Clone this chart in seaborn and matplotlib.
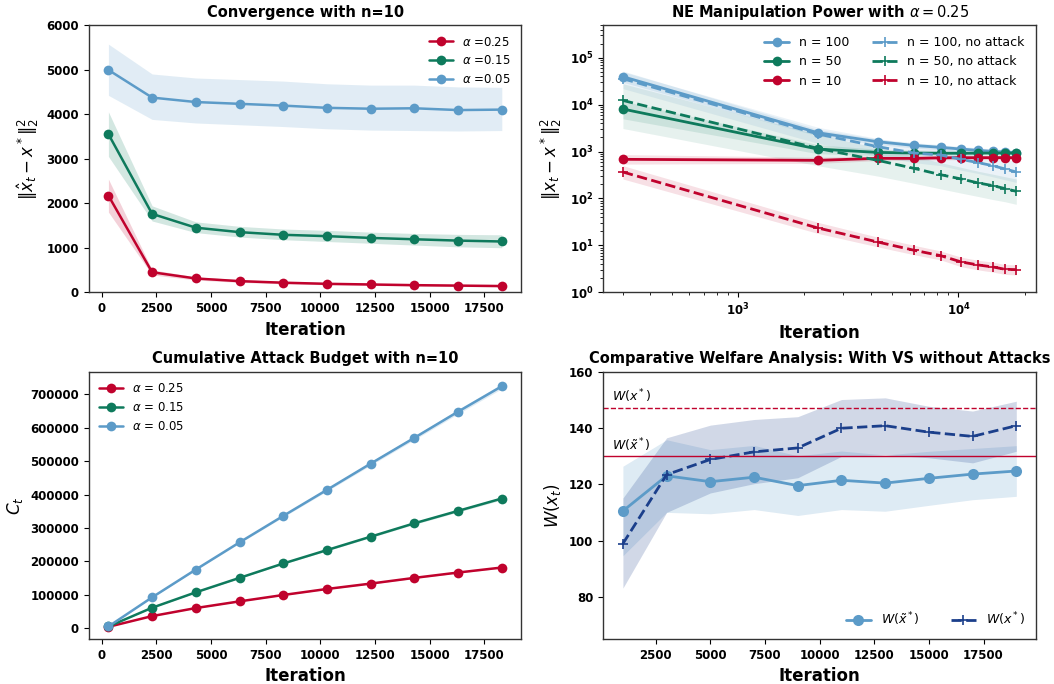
import matplotlib
matplotlib.use("Agg")
import numpy as np
import pandas as pd
import seaborn as sns
import matplotlib.pyplot as plt

# ---------------- data ----------------
iters = [300, 2300, 4300, 6300, 8300, 10300, 12300, 14300, 16300, 18300]
alpha_labels = ["0.25", "0.15", "0.05"]

# Panel 1: convergence with n=10
conv_a25 = [2170, 450, 310, 250, 215, 190, 175, 160, 150, 140]
conv_a25_lo = [1800, 390, 275, 222, 190, 168, 153, 140, 130, 120]
conv_a25_hi = [2540, 505, 345, 285, 245, 215, 200, 185, 175, 165]
conv_a15 = [3550, 1760, 1450, 1350, 1290, 1260, 1220, 1190, 1160, 1140]
conv_a15_lo = [3050, 1600, 1340, 1240, 1180, 1140, 1100, 1060, 1020, 1000]
conv_a15_hi = [4050, 1940, 1580, 1480, 1420, 1390, 1350, 1320, 1300, 1290]
conv_a05 = [4990, 4370, 4270, 4230, 4190, 4140, 4120, 4130, 4090, 4100]
conv_a05_lo = [4420, 3880, 3800, 3760, 3720, 3670, 3640, 3630, 3620, 3630]
conv_a05_hi = [5570, 4900, 4810, 4775, 4740, 4680, 4650, 4650, 4610, 4600]

# Panel 2: NE manipulation power with alpha = 0.25
n100_att = [39400, 2520, 1620, 1350, 1230, 1130, 1060, 1010, 980, 946]
n100_att_lo = [30000, 2150, 1420, 1190, 1090, 1010, 950, 905, 880, 850]
n100_att_hi = [52000, 2950, 1850, 1540, 1400, 1280, 1200, 1140, 1100, 1060]
n50_att = [8060, 1130, 960, 930, 920, 920, 925, 930, 930, 930]
n50_att_lo = [5000, 900, 820, 800, 800, 800, 800, 810, 810, 810]
n50_att_hi = [12000, 1400, 1120, 1080, 1060, 1060, 1060, 1060, 1060, 1060]
n10_att = [683, 650, 716, 716, 735, 740, 740, 742, 745, 740]
n10_att_lo = [540, 560, 640, 650, 665, 670, 670, 675, 675, 670]
n10_att_hi = [860, 760, 800, 790, 810, 815, 815, 815, 820, 815]
n100_no = [35700, 2370, 1270, 930, 845, 680, 580, 500, 425, 366]
n100_no_lo = [22000, 1500, 800, 580, 500, 400, 340, 290, 250, 220]
n100_no_hi = [50000, 3300, 1900, 1400, 1250, 1000, 850, 750, 680, 620]
n50_no = [12300, 1170, 650, 437, 321, 260, 214, 188, 162, 142]
n50_no_lo = [3100, 500, 300, 210, 160, 130, 110, 95, 85, 75]
n50_no_hi = [28000, 2300, 1200, 800, 580, 460, 380, 330, 290, 260]
n10_no = [366, 23.5, 11.8, 7.85, 6.04, 4.43, 3.82, 3.47, 3.09, 3.04]
n10_no_lo = [260, 18, 9.3, 6.3, 4.9, 3.5, 3.0, 2.7, 2.4, 2.35]
n10_no_hi = [500, 31, 15, 10, 7.6, 5.6, 4.8, 4.4, 3.9, 3.85]

# Panel 3: cumulative attack budget
budget_a25 = [4000, 36100, 60200, 80200, 99300, 117300, 133400, 150500, 166500, 181500]
budget_a15 = [5000, 61200, 107300, 150500, 193600, 233700, 273800, 313900, 351000, 388000]
budget_a05 = [5000, 92300, 175500, 256800, 336000, 414000, 492500, 569700, 648000, 724000]

# Panel 4: welfare
iters_w = [1000, 3000, 5000, 7000, 9000, 11000, 13000, 15000, 17000, 19000]
w_tilde = [110.5, 123.0, 120.9, 122.5, 119.5, 121.4, 120.4, 122.1, 123.6, 124.7]
w_tilde_lo = [94.6, 110.0, 109.5, 111.0, 108.9, 111.0, 110.4, 112.5, 114.5, 115.7]
w_tilde_hi = [126.4, 135.8, 132.3, 133.8, 130.1, 131.8, 130.4, 131.7, 132.7, 133.7]
w_star = [98.9, 123.4, 128.8, 131.5, 132.9, 139.9, 140.8, 138.5, 137.0, 140.8]
w_star_lo = [83.1, 110.0, 116.9, 120.2, 122.3, 129.9, 130.5, 129.4, 127.6, 131.7]
w_star_hi = [115.1, 136.5, 141.0, 143.0, 144.0, 150.1, 150.7, 147.7, 146.0, 149.5]
w_opt = 147.2
w_opt_tilde = 130.1

# ---------------- style ----------------
RED = "#C0022D"
GREEN = "#0E7A5C"
LBLUE = "#5C9BC8"
NAVY = "#1B3F8B"

sns.set_style("ticks")
plt.rcParams["font.family"] = ["DejaVu Sans"]
plt.rcParams.update({
    "axes.linewidth": 1.0,
    "axes.edgecolor": "#333333",
    "text.color": "black",
    "axes.labelcolor": "black",
    "xtick.color": "black",
    "ytick.color": "black",
    "xtick.major.size": 3.5,
    "ytick.major.size": 3.5,
    "xtick.minor.size": 2.0,
    "ytick.minor.size": 2.0,
    "xtick.minor.width": 0.6,
    "ytick.minor.width": 0.6,
})

fig, axes = plt.subplots(2, 2, figsize=(10.54, 6.84), dpi=100)
fig.subplots_adjust(left=0.0842, right=0.9829, top=0.9635, bottom=0.0658,
                    wspace=0.189, hspace=0.297)

TITLE_KW = dict(fontsize=10.5, fontweight="bold")
XL_KW = dict(fontsize=12, fontweight="bold")


def line(ax, x, y, color, label, marker="o", ls="-", lw=1.8, ms=7, mew=0):
    sns.lineplot(x=x, y=y, ax=ax, color=color, label=label, marker=marker,
                 linestyle=ls, linewidth=lw, markersize=ms,
                 markeredgewidth=mew, markeredgecolor=color)


def band(ax, x, lo, hi, color, alpha=0.18):
    ax.fill_between(x, lo, hi, color=color, alpha=alpha, linewidth=0)


# ---- panel 1 ----
ax = axes[0, 0]
band(ax, iters, conv_a25_lo, conv_a25_hi, RED)
band(ax, iters, conv_a15_lo, conv_a15_hi, GREEN)
band(ax, iters, conv_a05_lo, conv_a05_hi, LBLUE)
line(ax, iters, conv_a25, RED, r"$\alpha$ =" + alpha_labels[0])
line(ax, iters, conv_a15, GREEN, r"$\alpha$ =" + alpha_labels[1])
line(ax, iters, conv_a05, LBLUE, r"$\alpha$ =" + alpha_labels[2])
ax.set_ylim(0, 6000)
ax.set_title("Convergence with n=10", **TITLE_KW)
ax.set_xlabel("Iteration", **XL_KW)
ax.set_ylabel(r"$\|\hat{x}_t - x^*\|_2^2$", fontsize=12)
ax.legend(loc="upper right", frameon=False, fontsize=8.5)

# ---- panel 2 ----
ax = axes[0, 1]
ax.set_xscale("log")
ax.set_yscale("log")
band(ax, iters, n100_att_lo, n100_att_hi, LBLUE, 0.15)
band(ax, iters, n50_att_lo, n50_att_hi, GREEN, 0.12)
band(ax, iters, n10_att_lo, n10_att_hi, RED, 0.12)
band(ax, iters, n100_no_lo, n100_no_hi, LBLUE, 0.12)
band(ax, iters, n50_no_lo, n50_no_hi, GREEN, 0.10)
band(ax, iters, n10_no_lo, n10_no_hi, RED, 0.12)
line(ax, iters, n100_att, LBLUE, "n = 100", lw=2)
line(ax, iters, n50_att, GREEN, "n = 50", lw=2)
line(ax, iters, n10_att, RED, "n = 10", lw=2)
line(ax, iters, n100_no, LBLUE, "n = 100, no attack", marker="+", ls="--", lw=2, ms=7, mew=1.2)
line(ax, iters, n50_no, GREEN, "n = 50, no attack", marker="+", ls="--", lw=2, ms=7, mew=1.2)
line(ax, iters, n10_no, RED, "n = 10, no attack", marker="+", ls="--", lw=2, ms=7, mew=1.2)
ax.set_ylim(1, 5e5)
ax.set_title(r"NE Manipulation Power with $\alpha = 0.25$", **TITLE_KW)
ax.set_xlabel("Iteration", **XL_KW)
ax.set_ylabel(r"$\|x_t - x^*\|_2^2$", fontsize=12)
ax.legend(loc="upper right", frameon=False, fontsize=9, ncol=2, columnspacing=1.8)

# ---- panel 3 ----
ax = axes[1, 0]
for vals, c, lab in [(budget_a25, RED, alpha_labels[0]),
                     (budget_a15, GREEN, alpha_labels[1]),
                     (budget_a05, LBLUE, alpha_labels[2])]:
    v = np.array(vals, dtype=float)
    band(ax, iters, v * 0.99, v * 1.01, c, 0.2)
    line(ax, iters, vals, c, r"$\alpha$ = " + lab)
ax.set_title("Cumulative Attack Budget with n=10", **TITLE_KW)
ax.set_xlabel("Iteration", **XL_KW)
ax.set_ylabel(r"$C_t$", fontsize=12)
ax.legend(loc="upper left", frameon=False, fontsize=8.5)

# ---- panel 4 ----
ax = axes[1, 1]
band(ax, iters_w, w_tilde_lo, w_tilde_hi, LBLUE, 0.2)
band(ax, iters_w, w_star_lo, w_star_hi, NAVY, 0.2)
line(ax, iters_w, w_tilde, LBLUE, r"$W(\tilde{x}^*)$", lw=2, ms=8)
line(ax, iters_w, w_star, NAVY, r"$W(x^*)$", marker="+", ls="--", lw=2, ms=7, mew=1.2)
ax.axhline(w_opt, color=RED, linestyle="--", linewidth=1)
ax.axhline(w_opt_tilde, color=RED, linestyle="-", linewidth=1)
ax.text(500, w_opt + 0.8, r"$W(x^*)$", fontsize=9, va="bottom", ha="left")
ax.text(500, w_opt_tilde + 0.8, r"$W(\tilde{x}^*)$", fontsize=9, va="bottom", ha="left")
ax.set_ylim(65, 160)
ax.set_yticks([80, 100, 120, 140, 160])
ax.set_title("Comparative Welfare Analysis: With VS without Attacks", **TITLE_KW)
ax.set_xlabel("Iteration", **XL_KW)
ax.set_ylabel(r"$W(x_t)$", fontsize=12)
ax.legend(loc="lower right", frameon=False, fontsize=9, ncol=2, columnspacing=2.5)

for ax in axes.flat:
    for s in ax.spines.values():
        s.set_visible(True)
        s.set_color("#333333")

fig.canvas.draw()
for ax in axes.flat:
    for lab in ax.get_xticklabels() + ax.get_yticklabels():
        lab.set_fontweight("bold")
        lab.set_fontsize(8.5)

fig.savefig("out.png", dpi=100)
